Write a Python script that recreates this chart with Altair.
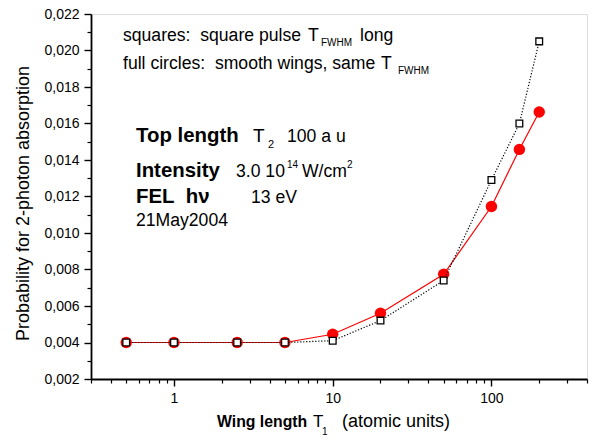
import altair as alt
import pandas as pd

# ---- data ----
wing_length = [0.5, 1, 2.5, 5, 10, 20, 50, 100, 150, 200]
prob_square_pulse = [0.0040, 0.0040, 0.0040, 0.0040, 0.0041, 0.0052, 0.0074, 0.0129, 0.0160, 0.0205]
prob_smooth_wings = [0.0040, 0.0040, 0.0040, 0.0040, 0.00445, 0.0056, 0.00774, 0.01145, 0.01458, 0.01663]

x_major = [1, 10, 100]
x_minor = [0.3, 0.4, 0.5, 0.6, 0.7, 0.8, 0.9, 2, 3, 4, 5, 6, 7, 8, 9,
           20, 30, 40, 50, 60, 70, 80, 90, 200, 300, 400]
y_major = [0.002, 0.004, 0.006, 0.008, 0.010, 0.012, 0.014, 0.016, 0.018, 0.020, 0.022]
y_minor = [0.003, 0.005, 0.007, 0.009, 0.011, 0.013, 0.015, 0.017, 0.019, 0.021]

df = pd.DataFrame({"T1": wing_length, "square": prob_square_pulse, "smooth": prob_smooth_wings})

FONT = "Liberation Sans"
LEFT, TOP = 91, 14          # page position of plot origin
W, H = 496, 365
SP = "\u00a0"               # non-collapsing space

xs = alt.Scale(type="log", domain=[0.3, 400], nice=False)
ys = alt.Scale(domain=[0.002, 0.022], nice=False, zero=False)

x_axis = alt.Axis(values=x_major, format="~g", orient="bottom", title=None, grid=False,
                  tickSize=7, tickWidth=1.4, tickColor="black", domainColor="black",
                  domainWidth=1.8, labelFont=FONT, labelFontSize=14, labelColor="black",
                  labelPadding=5, labelFlush=False, labelOverlap=False)
y_axis = alt.Axis(values=y_major, orient="left", grid=False,
                  labelExpr="replace(format(datum.value, '.3f'), '.', ',')",
                  tickSize=7, tickWidth=1.4, tickColor="black", domainColor="black",
                  domainWidth=1.8, labelFont=FONT, labelFontSize=14, labelColor="black",
                  labelPadding=5, labelFlush=False, labelOverlap=False,
                  title="Probability for 2-photon absorption", titleFont=FONT,
                  titleFontSize=18, titleFontWeight="normal", titleColor="black",
                  titleAngle=270, titleAlign="center", titleBaseline="middle",
                  titleX=23 - LEFT, titleY=203 - TOP)

x_minor_axis = alt.Axis(values=x_minor, orient="bottom", title=None, grid=False, labels=False,
                        domain=False, tickSize=4, tickWidth=1.2, tickColor="black")
y_minor_axis = alt.Axis(values=y_minor, orient="left", title=None, grid=False, labels=False,
                        domain=False, tickSize=4, tickWidth=1.2, tickColor="black")

base = alt.Chart(df)

red_line = base.mark_line(color="red", strokeWidth=1.2).encode(
    x=alt.X("T1:Q", scale=xs, axis=x_axis),
    y=alt.Y("smooth:Q", scale=ys, axis=y_axis),
)
minor = base.mark_point(opacity=0).encode(
    x=alt.X("T1:Q", scale=xs, axis=x_minor_axis),
    y=alt.Y("smooth:Q", scale=ys, axis=y_minor_axis),
)
red_dots = base.mark_circle(color="red", size=130, opacity=1).encode(
    x=alt.X("T1:Q", scale=xs, axis=None), y=alt.Y("smooth:Q", scale=ys, axis=None))
black_line = base.mark_line(color="black", strokeWidth=1.2, strokeDash=[1.2, 1.8]).encode(
    x=alt.X("T1:Q", scale=xs, axis=None), y=alt.Y("square:Q", scale=ys, axis=None))
squares = base.mark_point(shape="square", filled=True, fill="white", stroke="black",
                          strokeWidth=1.3, size=45, opacity=1).encode(
    x=alt.X("T1:Q", scale=xs, axis=None), y=alt.Y("square:Q", scale=ys, axis=None))

one = pd.DataFrame({"k": [0]})


def label(txt, px, py, size, weight="normal"):
    return alt.Chart(one).mark_text(
        text=txt, align="left", baseline="alphabetic", font=FONT, fontSize=size,
        fontWeight=weight, color="black"
    ).encode(x=alt.value(px - LEFT), y=alt.value(py - TOP))


REG = 17.6
BOLD = 20.4
texts = [
    label("squares:" + SP + SP + "square pulse", 123, 41, REG),
    label("T", 308, 41, REG),
    label("FWHM", 321, 46, 10),
    label("long", 360, 41, REG),
    label("full circles:" + SP + SP + "smooth wings, same", 123, 69, REG),
    label("T", 381, 69, REG),
    label("FWHM", 398, 74, 10),
    label("Top length", 136, 142, BOLD, "bold"),
    label("T", 253, 142, 19),
    label("2", 268, 148, 11),
    label("100 a u", 287, 142, REG),
    label("Intensity", 136, 177, BOLD, "bold"),
    label("3.0 10", 236, 177, REG),
    label("14", 287, 168, 10),
    label("W/cm", 302, 177, REG),
    label("2", 347, 168, 10),
    label("FEL" + SP + SP + "h\u03bd", 136, 203, BOLD, "bold"),
    label("13 eV", 251, 203, REG),
    label("21May2004", 136, 226, REG),
    label("Wing length", 217, 427, 15.8, "bold"),
    label("T", 313, 427, 17),
    label("1", 322, 435, 10),
    label("(atomic units)", 342, 427, 18),
]

chart = alt.layer(red_line, minor, red_dots, black_line, squares, *texts).resolve_axis(
    x="independent", y="independent"
).properties(
    width=W, height=H,
    autosize=alt.AutoSizeParams(type="none"),
    padding={"left": LEFT - 8, "top": TOP - 8, "right": 600 - 16 - (LEFT - 8) - W,
             "bottom": 441 - 8 - (TOP - 8) - H},
).configure_view(stroke=None).configure(background="white")

chart.save("out.html", embed_options={"renderer": "svg", "actions": False})
